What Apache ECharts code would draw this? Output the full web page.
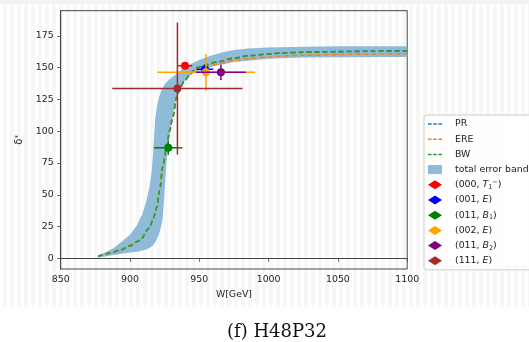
<!DOCTYPE html>
<html><head><meta charset="utf-8">
<script src="https://cdn.jsdelivr.net/npm/echarts@6/dist/echarts.min.js"></script>
<style>
html,body{margin:0;padding:0;background:#fff;}
#topband{position:absolute;left:0;top:0;width:529px;height:4px;background:#eef3f6;}
#stripes{position:absolute;left:0;top:4px;width:529px;height:303px;background:repeating-linear-gradient(to right,#ffffff 0px,#ffffff 3px,#f7f7f7 3px,#f7f7f7 7px);}
#chart{position:absolute;left:0;top:0;width:529px;height:342px;}
</style></head><body>
<div id="topband"></div><div id="stripes"></div><div id="chart"></div>
<script>
const xTicks = [850, 900, 950, 1000, 1050, 1100];
const yTicks = [0, 25, 50, 75, 100, 125, 150, 175];

const curveW = [877, 885, 893, 900, 907, 914, 917, 919.3, 921.4, 923.6, 926.5, 928.5, 930.8, 933.7, 936, 939.5, 944, 948, 955, 962.6, 975, 986, 1000, 1010, 1025, 1050, 1075, 1100];
const prDelta = [1.6, 4, 6.5, 10, 14, 24, 32, 40, 53.6, 71.8, 87.5, 100, 111, 127, 134, 140, 146, 150, 152.5, 154.5, 157.5, 159.5, 160.8, 161.7, 162.2, 162.7, 163, 163.3];
const ereDelta = [1.6, 4, 6.5, 10, 14, 24, 32, 40, 53.6, 71.8, 87.5, 100, 111, 127, 134, 140, 145.7, 149.5, 151.5, 153, 155.5, 157.3, 158.5, 159.3, 159.9, 160.4, 160.8, 161];
const bwDelta = [1.6, 4, 6.5, 10, 14, 24, 32, 40, 53.6, 71.8, 87.5, 100, 111, 127, 134, 140, 146, 150, 152.5, 154.5, 157.5, 159.5, 160.8, 161.7, 162.2, 162.7, 163, 163.3];

const bandUpperW = [877, 882, 888, 895, 900, 905, 909, 912, 914, 915.5, 916.5, 917.3, 918.2, 919.5, 921, 923, 925, 928, 931, 935, 940, 945, 950, 955, 960, 967, 975, 985, 1000, 1025, 1050, 1100];
const bandUpper = [2.5, 4.5, 8, 14, 18.5, 26, 35, 46, 56, 67, 80, 95, 110, 120, 127, 133, 137, 140.5, 143, 146.5, 150.5, 153.5, 156, 158.2, 160, 162.2, 164, 165.2, 166, 166.6, 167, 167];
const bandLowerW = [877, 885, 895, 905, 912, 916, 918.5, 920.5, 922, 923.5, 924.5, 925.5, 926.5, 927.5, 929, 931, 933, 935.5, 938, 941, 945, 950, 960, 975, 1000, 1025, 1050, 1100];
const bandLower = [0.5, 2, 3.8, 5.2, 7, 9.5, 13, 18, 23, 30, 45, 62, 78, 89, 101, 114, 124, 132, 137.5, 141.5, 145, 147.5, 151, 154.6, 157, 158, 158.3, 158.5];

const pointNames = ['(000, T1-)', '(001, E)', '(011, B1)', '(002, E)', '(011, B2)', '(111, E)'];
const pointLabels = ['(000, {it|T}{sub|1}{sup|−})', '(001, {it|E})', '(011, {it|B}{sub|1})', '(002, {it|E})', '(011, {it|B}{sub|2})', '(111, {it|E})'];
const pointW = [939.7, 954.1, 927.6, 954.8, 965.6, 934.2];
const pointDelta = [151.6, 148.8, 87, 146.4, 146.4, 133.6];
const pointWErr = [5.2, 6, 10.2, 35.3, 18, 47];
const pointDeltaErr = [1.5, 1.5, 5.6, 14.5, 6, 52];
const pointColors = ['#ff0000', '#0000ff', '#008000', '#ffa500', '#800080', '#a52a2a'];

const chart = echarts.init(document.getElementById('chart'), null, {renderer: 'canvas'});

function zipXY(xs, ys) { return xs.map((x, i) => [x, ys[i]]); }

function renderBand(params, api) {
  const pts = [];
  for (let i = 0; i < bandUpperW.length; i++) pts.push(api.coord([bandUpperW[i], bandUpper[i]]));
  for (let i = bandLowerW.length - 1; i >= 0; i--) pts.push(api.coord([bandLowerW[i], bandLower[i]]));
  return {type: 'polygon', shape: {points: pts}, style: {fill: '#8fbbd9'}};
}

function makePointRenderer(color) {
  return function (params, api) {
    const x = api.value(0), y = api.value(1), ex = api.value(2), ey = api.value(3);
    const c = api.coord([x, y]);
    const l = api.coord([x - ex, y]), r = api.coord([x + ex, y]);
    const t = api.coord([x, y + ey]), b = api.coord([x, y - ey]);
    return {type: 'group', children: [
      {type: 'line', shape: {x1: l[0], y1: l[1], x2: r[0], y2: r[1]}, style: {stroke: color, lineWidth: 1.5}},
      {type: 'line', shape: {x1: t[0], y1: t[1], x2: b[0], y2: b[1]}, style: {stroke: color, lineWidth: 1.5}},
      {type: 'circle', shape: {cx: c[0], cy: c[1], r: 4}, style: {fill: color}}
    ]};
  };
}

const lineDefs = [
  {name: 'PR', data: prDelta, color: '#1f77b4'},
  {name: 'ERE', data: ereDelta, color: '#ff7f0e'},
  {name: 'BW', data: bwDelta, color: '#2ca02c'}
];
const lineSeries = lineDefs.map(s => ({
  type: 'line', name: s.name, data: zipXY(curveW, s.data), showSymbol: false, symbol: 'none',
  smooth: 0.3, smoothMonotone: 'x', z: 3, silent: true,
  itemStyle: {color: s.color},
  lineStyle: {color: s.color, width: 1.6, type: [5, 3]}
}));

const pointSeries = pointNames.map((n, i) => ({
  type: 'custom', name: n, z: 4, silent: true,
  itemStyle: {color: pointColors[i]},
  renderItem: makePointRenderer(pointColors[i]),
  encode: {x: 0, y: 1},
  data: [[pointW[i], pointDelta[i], pointWErr[i], pointDeltaErr[i]]]
}));

const labelMap = {};
pointNames.forEach((n, i) => { labelMap[n] = pointLabels[i]; });

const baseFont = 'DejaVu Sans';
const dashIcon = 'path://M0,0h3.6v1.5h-3.6z M5.2,0h3.6v1.5h-3.6z M10.4,0h3.6v1.5h-3.6z';

chart.setOption({
  animation: false,
  backgroundColor: 'transparent',
  grid: {left: 60.7, right: 121.8, top: 10.7, bottom: 73, show: true, borderColor: '#444', borderWidth: 1, backgroundColor: 'transparent'},
  xAxis: {
    type: 'value', min: 850, max: 1100, interval: 50,
    name: 'W[GeV]', nameLocation: 'middle', nameGap: 21,
    nameTextStyle: {fontSize: 9.4, color: '#222', fontFamily: baseFont},
    axisLine: {show: true, lineStyle: {color: '#444', width: 1}},
    axisTick: {show: true, length: 3.5, lineStyle: {color: '#444', width: 0.8}},
    axisLabel: {fontSize: 9.4, color: '#222', fontFamily: baseFont, margin: 6, formatter: v => String(v)},
    splitLine: {show: false}
  },
  yAxis: {
    type: 'value', min: -8.4, max: 194.9,
    name: 'δ{s|*}', nameLocation: 'middle', nameGap: 23, nameRotate: 90,
    nameTextStyle: {fontSize: 10, color: '#222', fontFamily: baseFont, rich: {s: {fontSize: 7, verticalAlign: 'top', lineHeight: 6, color: '#222'}}},
    axisLine: {show: true, lineStyle: {color: '#444', width: 1}},
    axisTick: {show: true, length: 3.5, lineStyle: {color: '#444', width: 0.8}, customValues: yTicks},
    axisLabel: {fontSize: 9.4, color: '#222', fontFamily: baseFont, margin: 7, customValues: yTicks, formatter: v => String(v)},
    splitLine: {show: false}
  },
  legend: {
    orient: 'vertical', left: 424, top: 115,
    padding: [3, 8, 3, 4], itemGap: 3.2, itemWidth: 14, itemHeight: 9,
    backgroundColor: 'rgba(255,255,255,0.8)', borderColor: '#cccccc', borderWidth: 1, borderRadius: 3,
    selectedMode: false,
    data: lineDefs.map(s => ({name: s.name, icon: dashIcon, itemStyle: {color: s.color}}))
      .concat([{name: 'total error band', icon: 'rect', itemStyle: {color: '#8fbbd9'}}])
      .concat(pointNames.map((n, i) => ({name: n, icon: 'diamond', itemStyle: {color: pointColors[i]}}))),
    formatter: function (name) { return labelMap[name] || name; },
    textStyle: {
      fontSize: 9.4, color: '#222', fontFamily: baseFont, lineHeight: 12, padding: [0, 0, 0, 8],
      rich: {
        it: {fontStyle: 'italic', fontSize: 9.4, color: '#222', fontFamily: baseFont, lineHeight: 12},
        sub: {fontSize: 6.5, color: '#222', fontFamily: baseFont, verticalAlign: 'bottom', lineHeight: 7},
        sup: {fontSize: 6.5, color: '#222', fontFamily: baseFont, verticalAlign: 'top', lineHeight: 7}
      }
    }
  },
  graphic: [{
    type: 'text', x: 277, y: 332,
    style: {text: '(f) H48P32', textAlign: 'center', textVerticalAlign: 'middle', font: '18px "DejaVu Serif"', fill: '#111'}
  }],
  series: [
    {type: 'custom', name: 'total error band', z: 2, silent: true, itemStyle: {color: '#8fbbd9'},
     renderItem: renderBand, encode: {x: 0, y: 1}, data: [[bandLowerW[0], bandLower[0]]]}
  ].concat(lineSeries).concat(pointSeries)
});
</script>
</body></html>
